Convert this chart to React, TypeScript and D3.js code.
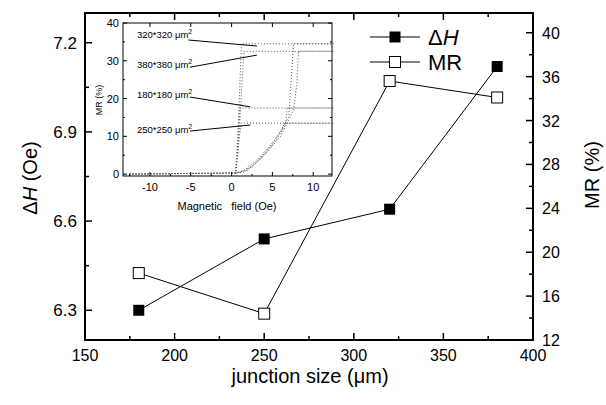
import React from "react";
import { scaleLinear, line, range } from "d3";

// main plot data
const sizes = [180, 250, 320, 380];
const deltaH = [6.3, 6.54, 6.64, 7.12];
const mrMain = [18.1, 14.4, 35.6, 34.1];

const xTicks = [150, 200, 250, 300, 350, 400];
const leftTicks = [6.3, 6.6, 6.9, 7.2];
const rightTicks = [12, 16, 20, 24, 28, 32, 36, 40];

// inset: MR loops vs field (up sweep then down sweep)
const loopNames = ["320*320", "380*380", "180*180", "250*250"];
const loopH = [
  [-12.5, 0.5, 0.7, 1.2, 12.5, 7.6, 7.3, 7.0, 5, 3, 1.5, 0.5],
  [-12.5, 0.5, 0.8, 1.5, 12.5, 8.2, 8.0, 7.6, 6, 4, 2, 0.5],
  [-12.5, 0.5, 0.7, 1.0, 12.5, 6.8, 6.6, 5.5, 4, 2.5, 1, 0.5],
  [-12.5, 0.5, 0.7, 1.2, 12.5, 6.5, 6.0, 4.5, 3, 1.5, 0.8, 0.5],
];
const loopMR = [
  [0, 0.3, 5, 34.5, 34.5, 34.5, 25, 15, 8, 3, 0.5, 0.3],
  [0, 0.3, 6, 32.5, 32.5, 32.5, 24, 17, 10, 5, 1, 0.3],
  [0, 0.3, 8, 17.5, 17.5, 17.5, 13, 9, 5, 2, 0.5, 0.3],
  [0, 0.3, 6, 13.5, 13.5, 13.5, 11, 7, 3.5, 1, 0.5, 0.3],
];
// annotation label positions (field, MR) and leader targets
const labelMR = [36.8, 28.9, 20.9, 11.7];
const leaderFrom = [[-5.3, 35.5], [-5.1, 28.3], [-5.1, 20.4], [-5.1, 11.4]];
const leaderTo = [[3.1, 33.9], [3.1, 31.5], [2.3, 17.8], [2.3, 13.0]];
const insetXTicks = [-10, -5, 0, 5, 10];
const insetYTicks = [0, 10, 20, 30, 40];

const font = "Arial, 'Liberation Sans', sans-serif";

export default function App() {
  const x = scaleLinear().domain([150, 400]).range([85, 533]);
  const yL = scaleLinear().domain([6.2, 7.3]).range([340, 13]);
  const yR = scaleLinear().domain([12, 41.8]).range([340, 13]);

  const ix = scaleLinear().domain([-13.3, 12.3]).range([123, 332]);
  const iy = scaleLinear().domain([-0.5, 40]).range([176, 23]);

  const hLine = line<number>().x((d, i) => x(sizes[i])).y((d) => yL(d));
  const mLine = line<number>().x((d, i) => x(sizes[i])).y((d) => yR(d));

  const xMinor = range(175, 400, 50);
  const lMinor = [6.45, 6.75, 7.05];
  const rMinor = range(14, 41, 4);

  const ms = 11;

  return (
    <svg width={606} height={405} style={{ position: "absolute", left: 0, top: 0, background: "#fff" }} fontFamily={font}>
      {/* inset */}
      <g>
        <rect x={123} y={23} width={209} height={153} fill="#fff" stroke="#000" strokeWidth={1} />
        {loopH.map((hs, k) => (
          <path
            key={k}
            d={line<number>().x((h) => ix(h)).y((h, i) => iy(loopMR[k][i]))(hs) || ""}
            fill="none"
            stroke="#555"
            strokeWidth={1}
            strokeDasharray="1 2"
          />
        ))}
        {insetXTicks.map((t) => (
          <g key={t}>
            <line x1={ix(t)} x2={ix(t)} y1={176} y2={172} stroke="#000" />
            <line x1={ix(t)} x2={ix(t)} y1={23} y2={27} stroke="#000" />
            <text x={ix(t)} y={191} fontSize={11} textAnchor="middle">{t}</text>
          </g>
        ))}
        {insetYTicks.map((t) => (
          <g key={t}>
            <line x1={123} x2={127} y1={iy(t)} y2={iy(t)} stroke="#000" />
            <line x1={332} x2={328} y1={iy(t)} y2={iy(t)} stroke="#000" />
            <text x={119} y={iy(t) + 4} fontSize={11} textAnchor="end">{t}</text>
          </g>
        ))}
        {[-12.5, -7.5, -2.5, 2.5, 7.5].map((t) => (
          <line key={t} x1={ix(t)} x2={ix(t)} y1={176} y2={174} stroke="#000" />
        ))}
        {[5, 15, 25, 35].map((t) => (
          <g key={t}>
            <line x1={123} x2={125} y1={iy(t)} y2={iy(t)} stroke="#000" />
            <line x1={332} x2={330} y1={iy(t)} y2={iy(t)} stroke="#000" />
          </g>
        ))}
        <text transform="translate(102,100) rotate(-90)" fontSize={9} textAnchor="middle">MR (%)</text>
        <text x={227} y={210} fontSize={11} textAnchor="middle" xmlSpace="preserve">Magnetic   field (Oe)</text>
        {loopNames.map((n, k) => (
          <g key={n}>
            <text x={ix(-11.6)} y={iy(labelMR[k]) + 3} fontSize={9.5}>
              {n} μm<tspan dy={-4} fontSize={7}>2</tspan>
            </text>
            <line
              x1={ix(leaderFrom[k][0])}
              y1={iy(leaderFrom[k][1])}
              x2={ix(leaderTo[k][0])}
              y2={iy(leaderTo[k][1])}
              stroke="#000"
              strokeWidth={1}
            />
          </g>
        ))}
      </g>

      {/* main frame */}
      <rect x={85} y={13} width={448} height={327} fill="none" stroke="#000" strokeWidth={2} />
      {xTicks.map((t) => (
        <g key={t}>
          <line x1={x(t)} x2={x(t)} y1={340} y2={333} stroke="#000" strokeWidth={1.5} />
          <line x1={x(t)} x2={x(t)} y1={13} y2={20} stroke="#000" strokeWidth={1.5} />
          <text x={x(t)} y={361} fontSize={16} textAnchor="middle">{t}</text>
        </g>
      ))}
      {xMinor.map((t) => (
        <g key={t}>
          <line x1={x(t)} x2={x(t)} y1={340} y2={336} stroke="#000" strokeWidth={1.5} />
          <line x1={x(t)} x2={x(t)} y1={13} y2={17} stroke="#000" strokeWidth={1.5} />
        </g>
      ))}
      {leftTicks.map((t) => (
        <g key={t}>
          <line x1={85} x2={92} y1={yL(t)} y2={yL(t)} stroke="#000" strokeWidth={1.5} />
          <text x={77} y={yL(t) + 6} fontSize={17} textAnchor="end">{t.toFixed(1)}</text>
        </g>
      ))}
      {lMinor.map((t) => (
        <line key={t} x1={85} x2={89} y1={yL(t)} y2={yL(t)} stroke="#000" strokeWidth={1.5} />
      ))}
      {rightTicks.map((t) => (
        <g key={t}>
          <line x1={533} x2={526} y1={yR(t)} y2={yR(t)} stroke="#000" strokeWidth={1.5} />
          <text x={542} y={yR(t) + 6} fontSize={16}>{t}</text>
        </g>
      ))}
      {rMinor.map((t) => (
        <line key={t} x1={533} x2={529} y1={yR(t)} y2={yR(t)} stroke="#000" strokeWidth={1.5} />
      ))}

      {/* series */}
      <path d={hLine(deltaH) || ""} fill="none" stroke="#000" strokeWidth={1} />
      <path d={mLine(mrMain) || ""} fill="none" stroke="#000" strokeWidth={1} />
      {deltaH.map((v, i) => (
        <rect key={i} x={x(sizes[i]) - ms / 2} y={yL(v) - ms / 2} width={ms} height={ms} fill="#000" />
      ))}
      {mrMain.map((v, i) => (
        <rect key={i} x={x(sizes[i]) - ms / 2} y={yR(v) - ms / 2} width={ms} height={ms} fill="#fff" stroke="#000" strokeWidth={1} />
      ))}

      {/* legend */}
      <line x1={370} x2={420} y1={37} y2={37} stroke="#000" />
      <rect x={395 - ms / 2} y={37 - ms / 2} width={ms} height={ms} fill="#000" />
      <text x={428} y={45} fontSize={22}>Δ<tspan fontStyle="italic">H</tspan></text>
      <line x1={370} x2={420} y1={62} y2={62} stroke="#000" />
      <rect x={395 - ms / 2} y={62 - ms / 2} width={ms} height={ms} fill="#fff" stroke="#000" />
      <text x={428} y={70} fontSize={22}>MR</text>

      {/* axis titles */}
      <text x={310} y={383} fontSize={20} textAnchor="middle">junction size (μm)</text>
      <text transform="translate(37,178) rotate(-90)" fontSize={20} textAnchor="middle">
        Δ<tspan fontStyle="italic">H</tspan> (Oe)
      </text>
      <text transform="translate(599,175) rotate(-90)" fontSize={20} textAnchor="middle">MR (%)</text>
    </svg>
  );
}
